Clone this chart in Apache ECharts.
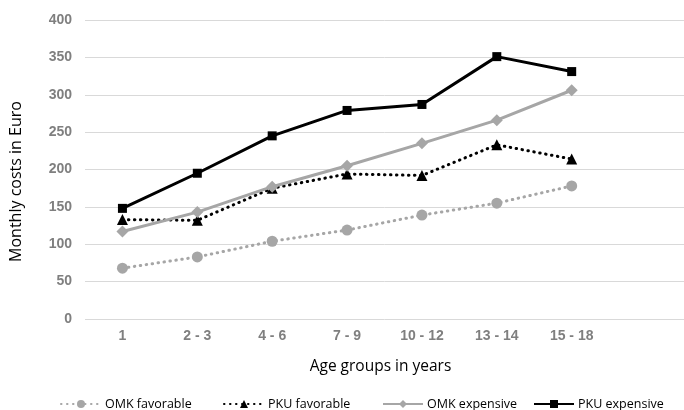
<!DOCTYPE html>
<html>
<head>
<meta charset="utf-8">
<script src="https://cdn.jsdelivr.net/npm/echarts@6/dist/echarts.min.js"></script>
<style>
html,body{margin:0;padding:0;background:#fff;}
#chart{width:684px;height:410px;}
</style>
</head>
<body>
<div id="chart"></div>
<script>
const categories = ['1', '2 - 3', '4 - 6', '7 - 9', '10 - 12', '13 - 14', '15 - 18'];
const yTicks = [0, 50, 100, 150, 200, 250, 300, 350, 400];
const omkFavorable = [68, 83, 104, 119, 139, 155, 178];
const pkuFavorable = [133, 132, 175, 194, 192, 233, 214];
const omkExpensive = [117, 143, 177, 205, 235, 266, 306];
const pkuExpensive = [148, 195, 245, 279, 287, 351, 331];

const GRAY = '#a6a6a6';
const BLACK = '#000000';
const dots = [0.5, 5.5];

const chart = echarts.init(document.getElementById('chart'), null, {renderer: 'canvas'});

function legendAt(name, left) {
  return {
    data: [name], left: left, top: 397, padding: 0, itemWidth: 40, itemHeight: 10, itemGap: 0,
    textStyle: {fontFamily: 'Open Sans', fontSize: 12.5, lineHeight: 14, color: '#000', padding: [0, 0, 0, -1]}
  };
}

chart.setOption({
  animation: false,
  backgroundColor: '#fff',
  grid: {left: 85, right: -6.5, top: 20, bottom: 91, containLabel: false},
  legend: [
    legendAt('OMK favorable', 60),
    legendAt('PKU favorable', 223),
    legendAt('OMK expensive', 382),
    legendAt('PKU expensive', 533)
  ],
  xAxis: {
    type: 'category',
    data: categories.concat(['']),
    boundaryGap: true,
    axisLine: {show: false},
    axisTick: {show: false},
    axisLabel: {fontFamily: 'Liberation Sans', fontWeight: 'bold', fontSize: 14, color: '#7f7f7f', margin: 10},
    name: 'Age groups in years',
    nameLocation: 'middle',
    nameGap: 40,
    nameTextStyle: {fontFamily: 'Open Sans', fontSize: 15.5, color: '#000', padding: [0, 8, 0, 0]}
  },
  yAxis: {
    type: 'value',
    min: yTicks[0], max: yTicks[yTicks.length - 1], interval: 50,
    axisLine: {show: false},
    axisTick: {show: false},
    splitLine: {lineStyle: {color: '#d9d9d9', width: 1}},
    axisLabel: {fontFamily: 'Liberation Sans', fontWeight: 'bold', fontSize: 14, color: '#7f7f7f', margin: 13},
    name: 'Monthly costs in Euro',
    nameLocation: 'middle',
    nameGap: 61,
    nameTextStyle: {fontFamily: 'Open Sans', fontSize: 16, color: '#000', padding: [0, 24, 0, 0]}
  },
  series: [
    {
      name: 'OMK favorable', type: 'line', data: omkFavorable,
      symbol: 'circle', symbolSize: 11,
      itemStyle: {color: GRAY},
      lineStyle: {color: GRAY, width: 3, type: dots, cap: 'round'}
    },
    {
      name: 'PKU favorable', type: 'line', data: pkuFavorable,
      symbol: 'triangle', symbolSize: 11,
      itemStyle: {color: BLACK},
      lineStyle: {color: BLACK, width: 3, type: dots, cap: 'round'}
    },
    {
      name: 'OMK expensive', type: 'line', data: omkExpensive,
      symbol: 'diamond', symbolSize: 12,
      itemStyle: {color: GRAY},
      lineStyle: {color: GRAY, width: 3}
    },
    {
      name: 'PKU expensive', type: 'line', data: pkuExpensive,
      symbol: 'rect', symbolSize: 9,
      itemStyle: {color: BLACK},
      lineStyle: {color: BLACK, width: 3}
    }
  ]
});
</script>
</body>
</html>
